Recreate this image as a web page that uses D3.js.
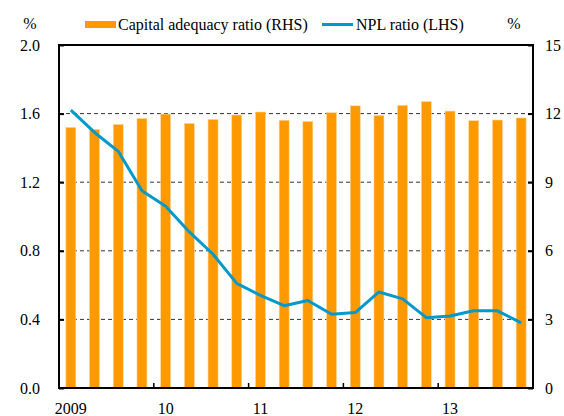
<!DOCTYPE html>
<html><head><meta charset="utf-8">
<script src="https://cdn.jsdelivr.net/npm/d3@7/dist/d3.min.js"></script>
<style>body{margin:0;background:#fff}svg{display:block}svg text{font-family:"Liberation Serif",Tinos,"Times New Roman","DejaVu Serif",serif !important}</style>
</head><body>
<script>
const quarters = ["2009Q1","2009Q2","2009Q3","2009Q4","2010Q1","2010Q2","2010Q3","2010Q4","2011Q1","2011Q2","2011Q3","2011Q4","2012Q1","2012Q2","2012Q3","2012Q4","2013Q1","2013Q2","2013Q3","2013Q4"];
const capitalAdequacy = [11.40,11.31,11.53,11.79,11.98,11.57,11.75,11.94,12.07,11.71,11.66,12.04,12.34,11.92,12.36,12.52,12.11,11.69,11.72,11.81];
const nplRatio = [1.62,1.49,1.38,1.15,1.06,0.91,0.78,0.61,0.54,0.48,0.51,0.43,0.44,0.56,0.52,0.41,0.42,0.45,0.45,0.38];
const yearLabels = ["2009","10","11","12","13"];
const leftTicks = [0,0.4,0.8,1.2,1.6,2.0];
const rightTicks = [0,3,6,9,12,15];

const W=564,H=416;
const m={l:59,r:31,t:45,b:28};
const svg=d3.select("body").append("svg").attr("width",W).attr("height",H);
const xb=d3.scaleBand().domain(quarters).range([m.l,W-m.r]);
const yL=d3.scaleLinear().domain([0,2]).range([H-m.b,m.t]);
const yR=d3.scaleLinear().domain([0,15]).range([H-m.b,m.t]);

// gridlines
svg.append("g").selectAll("line").data(leftTicks.slice(1,-1)).join("line")
 .attr("x1",m.l).attr("x2",W-m.r).attr("y1",d=>yL(d)).attr("y2",d=>yL(d))
 .attr("stroke","#333").attr("stroke-width",1).attr("stroke-dasharray","4,3");

// bars
svg.append("g").selectAll("rect").data(capitalAdequacy).join("rect")
 .attr("x",(d,i)=>xb(quarters[i])+xb.bandwidth()/2-5).attr("width",10)
 .attr("y",d=>yR(d)).attr("height",d=>yR(0)-yR(d))
 .attr("fill","#FF9900").attr("stroke","#FFD9A0").attr("stroke-width",0.6);

// line
const line=d3.line().x((d,i)=>xb(quarters[i])+xb.bandwidth()/2).y(d=>yL(d));
svg.append("path").datum(nplRatio).attr("d",line).attr("fill","none")
 .attr("stroke","#0099CC").attr("stroke-width",3).attr("stroke-linejoin","round");

// frame
svg.append("rect").attr("x",m.l).attr("y",m.t).attr("width",W-m.r-m.l).attr("height",H-m.b-m.t)
 .attr("fill","none").attr("stroke","#000").attr("stroke-width",2);

// axes
const axL=svg.append("g").attr("transform",`translate(${m.l},0)`)
 .call(d3.axisLeft(yL).tickValues(leftTicks).tickFormat(d3.format(".1f")).tickSizeInner(-5).tickSizeOuter(0).tickPadding(19));
const axR=svg.append("g").attr("transform",`translate(${W-m.r},0)`)
 .call(d3.axisRight(yR).tickValues(rightTicks).tickFormat(d3.format("d")).tickSizeInner(-5).tickSizeOuter(0).tickPadding(12));
[axL,axR].forEach(a=>{a.attr("font-family",null);a.select(".domain").remove();a.selectAll("line").attr("stroke","#000").attr("stroke-width",2);
 a.selectAll("text").attr("font-size",16).attr("fill","#000");});

// bottom ticks
const yearStarts=quarters.filter(q=>q.endsWith("Q1"));
svg.append("g").selectAll("line").data(yearStarts.slice(1)).join("line")
 .attr("x1",d=>xb(d)).attr("x2",d=>xb(d)).attr("y1",H-m.b).attr("y2",H-m.b-5)
 .attr("stroke","#000").attr("stroke-width",1.5);
svg.append("g").selectAll("text").data(yearStarts).join("text")
 .attr("x",d=>xb(d)+xb.bandwidth()/2).attr("y",414).attr("text-anchor","middle")
 .attr("font-size",16).text((d,i)=>yearLabels[i]);

// % labels
svg.append("text").attr("x",30).attr("y",29).attr("text-anchor","middle").attr("font-size",16).text("%");
svg.append("text").attr("x",514).attr("y",29).attr("text-anchor","middle").attr("font-size",16).text("%");

// legend
svg.append("rect").attr("x",85).attr("y",21).attr("width",31).attr("height",7).attr("fill","#FF9900");
svg.append("text").attr("x",118).attr("y",30).attr("font-size",16).text("Capital adequacy ratio (RHS)");
svg.append("line").attr("x1",322).attr("x2",353).attr("y1",24.5).attr("y2",24.5).attr("stroke","#0099CC").attr("stroke-width",3);
svg.append("text").attr("x",356).attr("y",30).attr("font-size",16).text("NPL ratio (LHS)");
</script>
</body></html>
